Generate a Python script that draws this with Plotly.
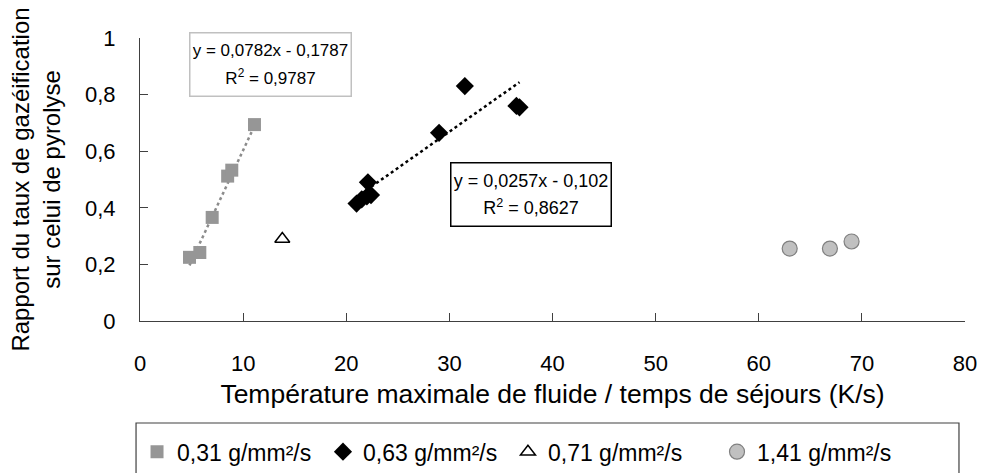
import plotly.graph_objects as go

# ---- data ----
sq_x = [4.8, 5.8, 7.0, 8.5, 8.9, 11.1]
sq_y = [0.225, 0.242, 0.366, 0.512, 0.533, 0.694]

dia_x = [21.0, 21.5, 22.0, 22.4, 22.1, 29.0, 31.5, 36.5, 36.8]
dia_y = [0.415, 0.430, 0.440, 0.445, 0.490, 0.665, 0.830, 0.760, 0.755]

tri_x = [13.8]
tri_y = [0.29]

cir_x = [63.0, 66.9, 69.0]
cir_y = [0.256, 0.256, 0.281]

# trend lines (coefficients shown on the chart)
sq_slope, sq_icpt, sq_r2 = 0.0782, -0.1787, 0.9787
dia_slope, dia_icpt, dia_r2 = 0.0257, -0.102, 0.8627

series_names = ["0,31 g/mm²/s", "0,63 g/mm²/s", "0,71 g/mm²/s", "1,41 g/mm²/s"]
x_ticks = [0, 10, 20, 30, 40, 50, 60, 70, 80]
y_ticks = [0, 0.2, 0.4, 0.6, 0.8, 1]

FONT = "Liberation Sans, Arial, sans-serif"

fig = go.Figure()

def trend(xs, a, b):
    lo, hi = min(xs), max(xs)
    return [lo, hi], [a * lo + b, a * hi + b]

tx, ty = trend(sq_x, sq_slope, sq_icpt)
fig.add_trace(go.Scatter(x=tx, y=ty, mode="lines", showlegend=False, hoverinfo="skip",
                         line=dict(color="#8c8c8c", width=2.5, dash="dot")))
tx, ty = trend(dia_x, dia_slope, dia_icpt)
fig.add_trace(go.Scatter(x=tx, y=ty, mode="lines", showlegend=False, hoverinfo="skip",
                         line=dict(color="#000000", width=2.5, dash="dot")))

fig.add_trace(go.Scatter(x=sq_x, y=sq_y, mode="markers", name=series_names[0], legend="legend",
                         marker=dict(symbol="square", size=13, color="#969696", line=dict(width=0))))
fig.add_trace(go.Scatter(x=dia_x, y=dia_y, mode="markers", name=series_names[1], legend="legend2",
                         marker=dict(symbol="diamond", size=14, color="#000000", line=dict(width=0))))
fig.add_trace(go.Scatter(x=tri_x, y=tri_y, mode="markers", name=series_names[2], legend="legend3",
                         marker=dict(symbol="triangle-up", size=13, color="#ffffff",
                                     line=dict(width=1.5, color="#000000"))))
fig.add_trace(go.Scatter(x=cir_x, y=cir_y, mode="markers", name=series_names[3], legend="legend4",
                         marker=dict(symbol="circle", size=15, color="#c0c0c0",
                                     line=dict(width=1.2, color="#808080"))))

def fmt(v, nd):
    return f"{v:.{nd}f}".replace(".", ",")

def eq_text(a, b, r2, nd_b, fs):
    s = f"font-size:{fs}px"
    return (f"<span style='{s}'>y = {fmt(a,4)}x - {fmt(-b,nd_b)}</span><br>"
            f"<span style='{s}'>R<sup>2</sup> = {fmt(r2,4)}</span>")

eq1 = eq_text(sq_slope, sq_icpt, sq_r2, 4, 17)
eq2 = eq_text(dia_slope, dia_icpt, dia_r2, 3, 18)

fig.add_annotation(x=0.0594, y=1.021, xref="paper", yref="paper", xanchor="left", yanchor="top",
                   text=eq1, showarrow=False, align="center", valign="middle",
                   width=156, height=58,
                   font=dict(family=FONT, size=21, color="#000"),
                   bordercolor="#c0c0c0", borderwidth=1.5, borderpad=2, bgcolor="#ffffff")
fig.add_annotation(x=0.3758, y=0.5618, xref="paper", yref="paper", xanchor="left", yanchor="top",
                   text=eq2, showarrow=False, align="center", valign="middle",
                   width=155, height=58,
                   font=dict(family=FONT, size=21, color="#000"),
                   bordercolor="#000000", borderwidth=1.5, borderpad=2, bgcolor="#ffffff")

# legend frame
fig.add_shape(type="rect", xref="paper", yref="paper", x0=-0.0048, x1=0.9927, y0=-0.62, y1=-0.3604,
              line=dict(color="#404040", width=1.2), fillcolor="rgba(0,0,0,0)")

leg_common = dict(orientation="h", xanchor="left", yanchor="middle", bgcolor="rgba(0,0,0,0)",
                  borderwidth=0, font=dict(family=FONT, size=23, color="#000"),
                  itemwidth=30)
LEG_Y = -0.462
fig.update_layout(
    legend=dict(x=-0.0036, y=LEG_Y, **leg_common),
    legend2=dict(x=0.2218, y=LEG_Y, **leg_common),
    legend3=dict(x=0.446, y=LEG_Y, **leg_common),
    legend4=dict(x=0.6994, y=LEG_Y, **leg_common),
)

fig.update_layout(
    width=982, height=473, autosize=False,
    margin=dict(l=140, r=17, t=38, b=152, autoexpand=False),
    paper_bgcolor="#ffffff", plot_bgcolor="#ffffff",
    separators=", ",
    font=dict(family=FONT, color="#000"),
    xaxis=dict(range=[0, 80], tickvals=x_ticks, showgrid=False, zeroline=False,
               showline=True, linecolor="#404040", linewidth=1.2,
               ticks="inside", ticklen=8, tickcolor="#404040", tickwidth=1.2,
               ticklabelstandoff=22,
               tickfont=dict(family=FONT, size=22, color="#000"),
               title=dict(text="Température maximale de fluide / temps de séjours (K/s)",
                          font=dict(family=FONT, size=26.5, color="#000"), standoff=9)),
    yaxis=dict(range=[0, 1], tickvals=y_ticks, showgrid=False, zeroline=False,
               showline=True, linecolor="#404040", linewidth=1.2,
               ticks="inside", ticklen=8, tickcolor="#404040", tickwidth=1.2,
               ticklabelstandoff=19, ticksuffix="\u00a0\u2009",
               tickfont=dict(family=FONT, size=22, color="#000"),
               title=dict(text="Rapport du taux de gazéification<br>sur celui de pyrolyse",
                          font=dict(family=FONT, size=24, color="#000"), standoff=17)),
)

fig.write_html("out.html",
               config={"responsive": False, "displayModeBar": False},
               post_script="document.body.style.margin='0';document.body.style.overflow='hidden';")
